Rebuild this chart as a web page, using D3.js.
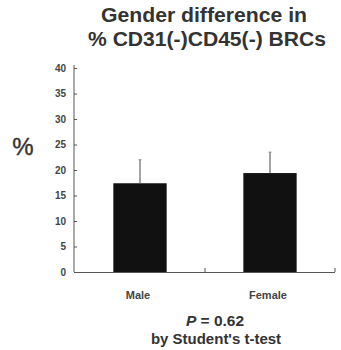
<!DOCTYPE html>
<html>
<head>
<meta charset="utf-8">
<script src="https://cdn.jsdelivr.net/npm/d3@7"></script>
<style>
  html, body { margin: 0; padding: 0; background: #fff; }
  svg { display: block; }
  text { font-family: "Liberation Sans", Arial, sans-serif; }
</style>
</head>
<body>
<script>
// Mean percentage of CD31(-)CD45(-) BRCs by gender, with upper SD bars
const categories = ["Male", "Female"];
const means = [17.4, 19.4];
const sds = [4.6, 4.1];
const yTicks = [0, 5, 10, 15, 20, 25, 30, 35, 40];
const titleLines = ["Gender difference in", "% CD31(-)CD45(-) BRCs"];
const statLines = ["= 0.62", "by Student's t-test"];

const W = 341, H = 350;
const svg = d3.select("body").append("svg").attr("width", W).attr("height", H);

const x = d3.scaleBand().domain(categories).range([75, 335])
  .paddingInner(0.59).paddingOuter(0.295);
const y = d3.scaleLinear().domain([0, 40]).range([272, 68]);

const ink = "#333";
const axisInk = "#555";

// Title, two centred lines
svg.append("text").attr("x", 204).attr("y", 22).attr("text-anchor", "middle")
  .attr("font-size", 20).attr("font-weight", "bold").attr("fill", ink)
  .attr("textLength", 206).attr("lengthAdjust", "spacingAndGlyphs")
  .text(titleLines[0]);
svg.append("text").attr("x", 207).attr("y", 46).attr("text-anchor", "middle")
  .attr("font-size", 20).attr("font-weight", "bold").attr("fill", ink)
  .attr("textLength", 238).attr("lengthAdjust", "spacingAndGlyphs")
  .text(titleLines[1]);

// Y axis with inward ticks
const yAxis = svg.append("g").attr("transform", "translate(74,0)")
  .call(d3.axisRight(y).tickValues(yTicks).tickSize(3).tickFormat(""));
yAxis.selectAll("path, line").attr("stroke", axisInk);
yAxis.select(".domain").attr("d", `M0,${y(40) - 3}V${y(0)}`);

svg.append("g").selectAll("text").data(yTicks).join("text")
  .attr("x", 66).attr("y", d => y(d)).attr("dy", "0.35em")
  .attr("text-anchor", "end").attr("font-size", 10).attr("font-weight", "bold")
  .attr("fill", "#444").text(d => d);

// Y axis label
svg.append("text").attr("x", 23).attr("y", 155).attr("text-anchor", "middle")
  .attr("font-size", 24).attr("fill", ink).attr("stroke", ink).attr("stroke-width", 0.4)
  .text("%");

// Bars
svg.append("g").selectAll("rect").data(categories).join("rect")
  .attr("x", d => x(d)).attr("width", x.bandwidth())
  .attr("y", (d, i) => y(means[i]))
  .attr("height", (d, i) => y(0) - y(means[i]))
  .attr("fill", "#111");

// Upper error bars
const eb = svg.append("g").selectAll("g").data(categories).join("g");
eb.append("line")
  .attr("x1", d => x(d) + x.bandwidth() / 2).attr("x2", d => x(d) + x.bandwidth() / 2)
  .attr("y1", (d, i) => y(means[i])).attr("y2", (d, i) => y(means[i] + sds[i]))
  .attr("stroke", "#666").attr("stroke-width", 1.2);
eb.append("line")
  .attr("x1", d => x(d) + x.bandwidth() / 2 - 1.5).attr("x2", d => x(d) + x.bandwidth() / 2 + 1.5)
  .attr("y1", (d, i) => y(means[i] + sds[i])).attr("y2", (d, i) => y(means[i] + sds[i]))
  .attr("stroke", "#888").attr("stroke-width", 1);

// X axis: baseline with upward ticks at category boundaries
const step = x.step();
const bounds = categories.slice(1).map(c => x(c) - x.paddingInner() * step / 2)
  .concat([x.range()[1]]);
const xAxis = svg.append("g");
xAxis.append("line").attr("x1", 74).attr("x2", x.range()[1])
  .attr("y1", y(0) + 0.5).attr("y2", y(0) + 0.5).attr("stroke", axisInk);
xAxis.selectAll(".tk").data(bounds).join("line").attr("class", "tk")
  .attr("x1", d => d).attr("x2", d => d)
  .attr("y1", y(0)).attr("y2", y(0) - 4).attr("stroke", axisInk);

svg.append("g").selectAll("text").data(categories).join("text")
  .attr("x", d => x(d) + x.bandwidth() / 2 - 2).attr("y", 299)
  .attr("text-anchor", "middle").attr("font-size", 11).attr("font-weight", "bold")
  .attr("fill", "#444").text(d => d);

// Statistics note
const pt = svg.append("text").attr("x", 215).attr("y", 326).attr("text-anchor", "middle")
  .attr("font-size", 15.5).attr("font-weight", "bold").attr("fill", ink);
pt.append("tspan").attr("font-style", "italic").text("P");
pt.append("tspan").text(" " + statLines[0]);
svg.append("text").attr("x", 216).attr("y", 344).attr("text-anchor", "middle")
  .attr("font-size", 15).attr("font-weight", "bold").attr("fill", ink)
  .text(statLines[1]);
</script>
</body>
</html>
